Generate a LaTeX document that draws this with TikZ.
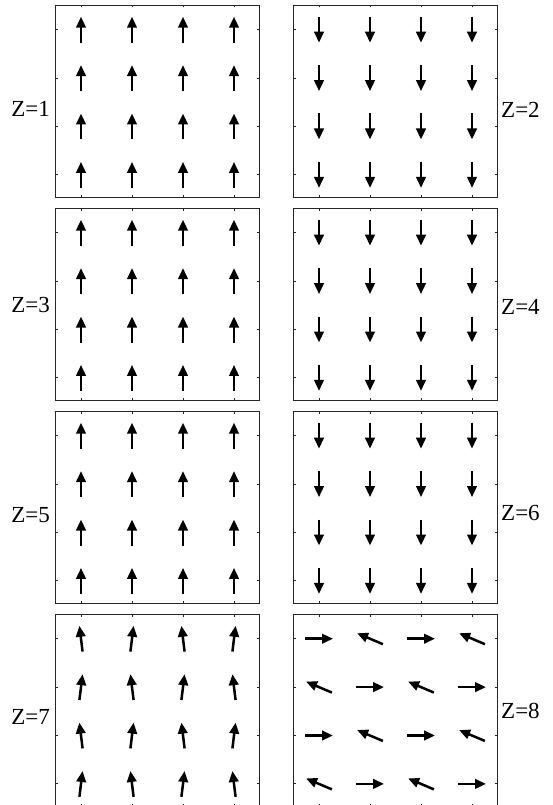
\documentclass[tikz,border=0pt]{standalone}
\usepackage{fontspec}
\setmainfont{Liberation Serif}
\usetikzlibrary{arrows.meta}

\tikzset{
  panel/.style={draw=black!85, line width=0.9pt},
  spin/.style={line width=2.5pt, -{Triangle[length=11pt,width=9.5pt]}},
  zlabel/.style={font=\fontsize{23}{26}\selectfont, inner sep=0pt},
}

% frame of one lattice plot, #1 = left x, #2 = top y (pixels down)
\newcommand{\latticebox}[2]{%
  \draw[panel] (#1,-#2) rectangle ++(204,-192);
  \foreach \k in {0,...,3}{
    \draw[panel] ({#1+26+51*\k},-#2) -- ++(0,-2.5);
    \draw[panel] ({#1+26+51*\k},{-#2-192}) -- ++(0,2.5);
    \draw[panel] (#1,{-#2-24.7-48.4*\k}) -- ++(2.5,0);
    \draw[panel] ({#1+204},{-#2-24.7-48.4*\k}) -- ++(-2.5,0);
  }
}
% one spin: #1,#2 = centre, #3 = angle, #4 = length
\newcommand{\spinarrow}[4]{%
  \draw[spin] ({#1},{-(#2)}) ++({#3+180}:{#4/2}) -- ++(#3:#4);
}

\begin{document}
\begin{tikzpicture}[x=1pt,y=1pt]
\useasboundingbox (0,0) rectangle (552,-805);

% frames
\latticebox{55}{5}
\latticebox{293}{5}
\latticebox{55}{208}
\latticebox{293}{208}
\latticebox{55}{411}
\latticebox{293}{411}
\latticebox{55}{614}
\latticebox{293}{614}

% Z=1..6: all up or all down
\foreach \i in {0,...,3}
  \foreach \j in {0,...,3}{
    \spinarrow{81+51*\i}{29.7+48.4*\j}{90}{26}
    \spinarrow{319+51*\i}{29.7+48.4*\j}{270}{26}
    \spinarrow{81+51*\i}{232.7+48.4*\j}{90}{26}
    \spinarrow{319+51*\i}{232.7+48.4*\j}{270}{26}
    \spinarrow{81+51*\i}{435.7+48.4*\j}{90}{26}
    \spinarrow{319+51*\i}{435.7+48.4*\j}{270}{26}
  }

% Z=7: canted up spins
\foreach \i in {0,...,3}
  \foreach \j in {0,...,3}{
    \pgfmathsetmacro{\ang}{mod(\i+\j,2)==0 ? 97 : 83}
    \spinarrow{81+51*\i}{638.7+48.4*\j}{\ang}{26}
  }

% Z=8: in-plane spins
\foreach \i in {0,...,3}
  \foreach \j in {0,...,3}{
    \pgfmathsetmacro{\ang}{mod(\i+\j,2)==0 ? 0 : 157}
    \spinarrow{319+51*\i}{638.7+48.4*\j}{\ang}{28}
  }

% layer labels
\node[zlabel, anchor=east] (z1) at (50,-109) {Z=1};
\node[zlabel, anchor=west] (z2) at (501,-110) {Z=2};
\node[zlabel, anchor=east] (z3) at (50,-305) {Z=3};
\node[zlabel, anchor=west] (z4) at (501,-307) {Z=4};
\node[zlabel, anchor=east] (z5) at (50,-515) {Z=5};
\node[zlabel, anchor=west] (z6) at (501,-513) {Z=6};
\node[zlabel, anchor=east] (z7) at (50,-717) {Z=7};
\node[zlabel, anchor=west] (z8) at (501,-711) {Z=8};
\end{tikzpicture}
\end{document}
